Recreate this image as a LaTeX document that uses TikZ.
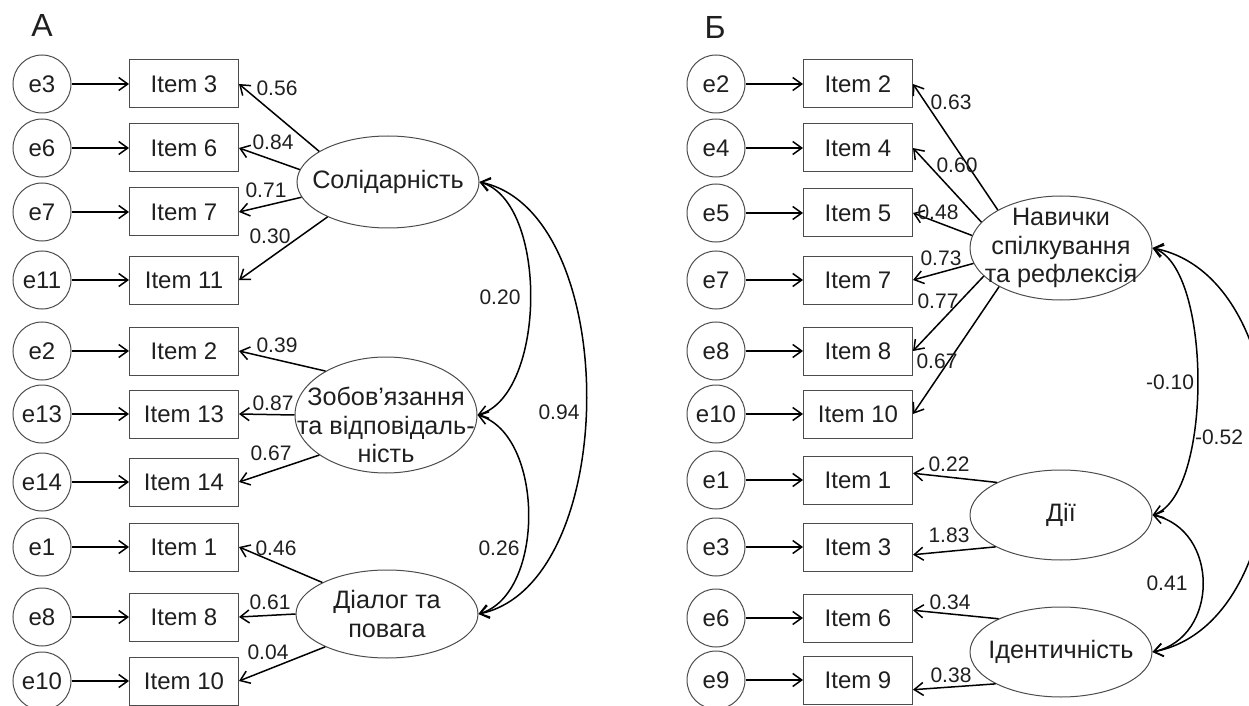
\documentclass[tikz,border=0pt]{standalone}
\usepackage{fontspec}
\setmainfont{Liberation Sans}
\usetikzlibrary{arrows.meta,shapes.geometric}

\tikzset{
	txt/.style={font=\fontsize{12}{14.4}\selectfont, text=black!88},
	errnode/.style={txt, circle, draw=black!70, line width=0.5pt, minimum size=29pt, inner sep=0pt},
	itembox/.style={txt, rectangle, draw=black!70, line width=0.5pt, minimum width=54.5pt, minimum height=24pt, inner sep=0pt},
	latent/.style={txt, font=\fontsize{12.6}{14.2}\selectfont, ellipse, draw=black!70, line width=0.5pt, minimum width=91pt, inner sep=-25pt, align=center},
	coef/.style={font=\fontsize{10.5}{12}\selectfont, text=black!88, inner sep=0pt},
	panel/.style={font=\fontsize{16}{19}\selectfont, text=black!88},
	barb/.tip={Straight Barb[length=4.5pt,width=6.5pt]},
	load/.style={line width=0.75pt, -barb},
	cov/.style={line width=0.75pt, barb-barb},
}

\begin{document}
\begin{tikzpicture}[x=0.5pt, y=-0.5pt]
	%%%%% START %%%%%
	\useasboundingbox (0,0) rectangle (1249,706);
	\clip (0,0) rectangle (1249,706);
	
	\node[panel] (pa) at (42,25) {А};
	\node[panel] (pb) at (715,27) {Б};
	
	%%%%% panel A %%%%%
	\foreach \e/\i/\y [count=\n] in {3/3/84, 6/6/148, 7/7/212, 11/11/280, 2/2/351, 13/13/414, 14/14/482, 1/1/547, 8/8/617, 10/10/681}{
		\node[errnode] (le\n) at (42,\y) {e\e};
		\node[itembox] (li\n) at (184,\y) {Item \i};
		\draw[load] (le\n) -- (li\n);
	}
	
	\node[latent, minimum height=46pt] (sol) at (388,182) {Солідарність};
	\node[latent, minimum height=58pt, label={[txt, font=\fontsize{12.6}{14.2}\selectfont, align=center, yshift=-5pt]center:Зобов’язання\\та відповідаль-\\ність}] (zob) at (386,415) {};
	\node[latent, minimum height=44pt] (dia) at (387,614) {Діалог та\\повага};
	
	\foreach \a/\n in {156/1, 172/2, 190/3, 210/4}
		\draw[load] (sol.\a) -- (li\n.east);
	\foreach \a/\n in {144/5, 180/6, 211/7}
		\draw[load] (zob.\a) -- (li\n.east);
	\foreach \a/\n in {154/8, 180/9, 208/10}
		\draw[load] (dia.\a) -- (li\n.east);
	
	\draw[cov] (sol.east) .. controls +(69,20) and +(69,-20) .. (zob.east);
	\draw[cov] (zob.east) .. controls +(67,20) and +(67,-20) .. (dia.east);
	\draw[cov] (sol.east) .. controls +(143,30) and +(143,-30) .. (dia.east);
	
	\foreach \x/\y/\v [count=\n] in {277/88/0.56, 273/142/0.84, 266/190/0.71, 270/236/0.30, 277/345/0.39, 273/403/0.87, 271/453/0.67, 276/548/0.46, 270/602/0.61, 268/652/0.04, 500/297/0.20, 499/548/0.26, 559/412/0.94}
		\node[coef] (lk\n) at (\x,\y) {\v};
	
	%%%%% panel B %%%%%
	\foreach \e/\i/\y [count=\n] in {2/2/84, 4/4/148, 5/5/213, 7/7/280, 8/8/351, 10/10/414, 1/1/480, 3/3/547, 6/6/618, 9/9/680}{
		\node[errnode] (re\n) at (716,\y) {e\e};
		\node[itembox] (ri\n) at (858,\y) {Item \i};
		\draw[load] (re\n) -- (ri\n);
	}
	
	\node[latent, minimum height=52pt] (nav) at (1061,248) {Навички\\спілкування\\та рефлексія};
	\node[latent, minimum height=45pt] (dii) at (1061,515) {Дії};
	\node[latent, minimum height=45pt] (ide) at (1061,652) {Ідентичність};
	
	\foreach \a/\n in {149/1, 162/2, 172/3, 190/4, 200/5, 212/6}
		\draw[load] (nav.\a) -- (ri\n.east);
	\draw[load] (dii.153) -- (ri7.7);
	\draw[load] (dii.206) -- (ri8.-8);
	\draw[load] (ide.152) -- (ri9.8);
	\draw[load] (ide.206) -- (ri10.-10);
	
	\draw[cov] (nav.east) .. controls +(60,20) and +(60,-20) .. (dii.east);
	\draw[cov] (dii.east) .. controls +(67,15) and +(67,-15) .. (ide.east);
	\draw[cov] (nav.east) .. controls +(155,30) and +(155,-30) .. (ide.east);
	
	\foreach \x/\y/\v [count=\n] in {951/102/0.63, 957/165/0.60, 938/212/0.48, 941/258/0.73, 938/301/0.77, 937/361/0.67, 949/464/0.22, 949/535/1.83, 950/602/0.34, 951/675/0.38, 1170/382/-0.10, 1167/583/0.41, 1219/437/-0.52}
		\node[coef] (rk\n) at (\x,\y) {\v};
	%%%%% END %%%%%
\end{tikzpicture}
\end{document}
